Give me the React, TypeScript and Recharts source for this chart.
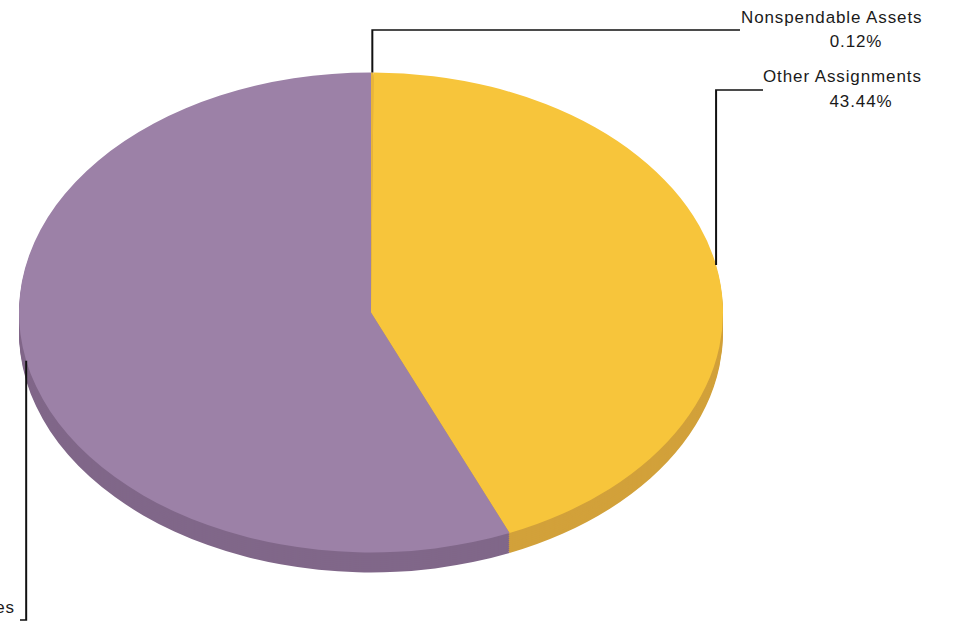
import React from "react";
import { PieChart, Pie, Cell } from "recharts";

const categories = ["Nonspendable Assets", "Other Assignments", "Reserve for Economic Uncertainties"];
const percentages = [0.12, 43.44, 56.44];
const topColors = ["#e9b43a", "#f7c53b", "#9c81a7"];
const sideColors = ["#c9973a", "#d2a13a", "#806789"];

const data = categories.map((name, i) => ({ name, value: percentages[i] }));

const W = 953;
const H = 643;
const K = 240 / 352; // vertical squash of the ellipse
const CX = 366;
const CY = 309;
const R = 352;
const layers = [20, 18, 16, 14, 12, 10, 8, 6, 4, 2];

// label layout (final pixel coordinates)
const labelLayout = [
  { leaderY: 30, endX: 740, l1: { x: 741, y: 23, anchor: "start" }, l2: { x: 856, y: 47 } },
  { leaderY: 90, endX: 763, l1: { x: 763, y: 82, anchor: "start" }, l2: { x: 861, y: 107 } },
  { leaderY: 620, endX: 20, l1: { x: 15, y: 613, anchor: "end" }, l2: { x: -130, y: 638 } },
];

const RAD = Math.PI / 180;

const renderLabel = (props: any) => {
  const { cx, cy, midAngle, outerRadius, index, name, value } = props;
  const lay = labelLayout[index];
  if (!lay) return null;
  const px = cx + outerRadius * Math.cos(-midAngle * RAD);
  const py = cy + outerRadius * Math.sin(-midAngle * RAD);
  const ly = lay.leaderY / K;
  const txt = (x: number, y: number, s: string, anchor: string, key: string) => (
    <text
      key={key}
      x={0}
      y={0}
      transform={`translate(${x},${y / K}) scale(1,${1 / K})`}
      textAnchor={anchor as any}
      fontFamily="'Liberation Sans', Arial, sans-serif"
      fontSize={17}
      letterSpacing={0.9}
      fill="#1a1a1a"
    >
      {s}
    </text>
  );
  return (
    <g>
      <path
        d={`M${px},${py} L${px},${ly} L${lay.endX},${ly}`}
        fill="none"
        stroke="#111"
        strokeWidth={2}
      />
      {txt(lay.l1.x, lay.l1.y, name, lay.l1.anchor, "a")}
      {txt(lay.l2.x, lay.l2.y, `${Number(value).toFixed(2)}%`, "middle", "b")}
    </g>
  );
};

export default function App() {
  return (
    <div
      style={{
        position: "absolute",
        left: 0,
        top: 0,
        width: W,
        height: H,
        overflow: "hidden",
        background: "#fff",
      }}
    >
      <div style={{ transform: `scaleY(${K})`, transformOrigin: "0 0", width: W, height: H / K }}>
        <PieChart width={W} height={H / K}>
          {layers.map((d) => (
            <Pie
              key={`side-${d}`}
              data={data}
              dataKey="value"
              nameKey="name"
              cx={CX}
              cy={(CY + d) / K}
              outerRadius={R}
              startAngle={90}
              endAngle={-270}
              stroke="none"
              isAnimationActive={false}
              label={false}
              labelLine={false}
            >
              {data.map((_, i) => (
                <Cell key={i} fill={sideColors[i]} stroke="none" />
              ))}
            </Pie>
          ))}
          <Pie
            data={data}
            dataKey="value"
            nameKey="name"
            cx={CX}
            cy={CY / K}
            outerRadius={R}
            startAngle={90}
            endAngle={-270}
            stroke="none"
            isAnimationActive={false}
            label={renderLabel}
            labelLine={false}
          >
            {data.map((_, i) => (
              <Cell key={i} fill={topColors[i]} stroke="none" />
            ))}
          </Pie>
        </PieChart>
      </div>
    </div>
  );
}
